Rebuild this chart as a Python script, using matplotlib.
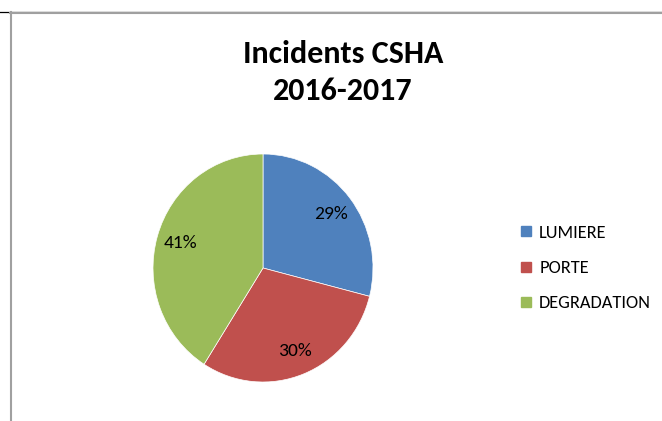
import matplotlib
matplotlib.use("Agg")
import matplotlib.pyplot as plt
from matplotlib.lines import Line2D
from matplotlib import font_manager as fm

categories = ["LUMIERE", "PORTE", "DEGRADATION"]
values = [29, 30, 41]
colors = ["#4F81BD", "#C0504D", "#9BBB59"]
title_lines = ["Incidents CSHA", "2016-2017"]

def pick(fams):
    for f in fams:
        try:
            fm.findfont(fm.FontProperties(family=f), fallback_to_default=False)
            return f
        except Exception:
            pass
    return "DejaVu Sans"

FONT = pick(["Carlito", "Liberation Sans Narrow", "Open Sans", "Liberation Sans"])
plt.rcParams["font.family"] = [FONT, "DejaVu Sans"]

W, H = 662, 421
fig = plt.figure(figsize=(W / 100, H / 100), dpi=100)
fig.patch.set_facecolor("white")

# frame lines
fig.add_artist(Line2D([0, 1], [1 - 11.5 / H] * 2, color="black", lw=0.9, transform=fig.transFigure))
fig.add_artist(Line2D([10 / W, 1], [1 - 13 / H] * 2, color="#a0a0a0", lw=1.5, transform=fig.transFigure))
fig.add_artist(Line2D([11 / W] * 2, [0, 1 - 12 / H], color="#a0a0a0", lw=1.5, transform=fig.transFigure))

# pie
cx, cy, rx, ry = 263, 268, 110, 114
ax = fig.add_axes([(cx - rx) / W, (H - cy - ry) / H, 2 * rx / W, 2 * ry / H])
wedges, texts, autotexts = ax.pie(
    values, colors=colors, startangle=90, counterclock=False, radius=1,
    autopct="%d%%", pctdistance=0.78,
    wedgeprops=dict(edgecolor="white", linewidth=0.5),
    textprops=dict(fontsize=14, color="black"),
)
ax.set_xlim(-1, 1)
ax.set_ylim(-1, 1)
ax.set_aspect("auto")
ax.axis("off")

# title
fig.text(343 / W, 1 - 63 / H, title_lines[0], ha="center", va="baseline",
         fontsize=23, fontweight="bold")
fig.text(343 / W, 1 - 100 / H, title_lines[1], ha="center", va="baseline",
         fontsize=23, fontweight="bold")

# legend
handles = [Line2D([], [], marker="s", linestyle="none", markersize=7.5,
                  markerfacecolor=c, markeredgecolor=c) for c in colors]
fig.legend(handles, categories, loc="center left",
           bbox_to_anchor=(520 / W, 1 - 268 / H), frameon=False,
           fontsize=13.2, labelspacing=1.05, handlelength=0.7,
           handletextpad=0.35, borderpad=0, borderaxespad=0)

fig.savefig("out.png", dpi=100)
